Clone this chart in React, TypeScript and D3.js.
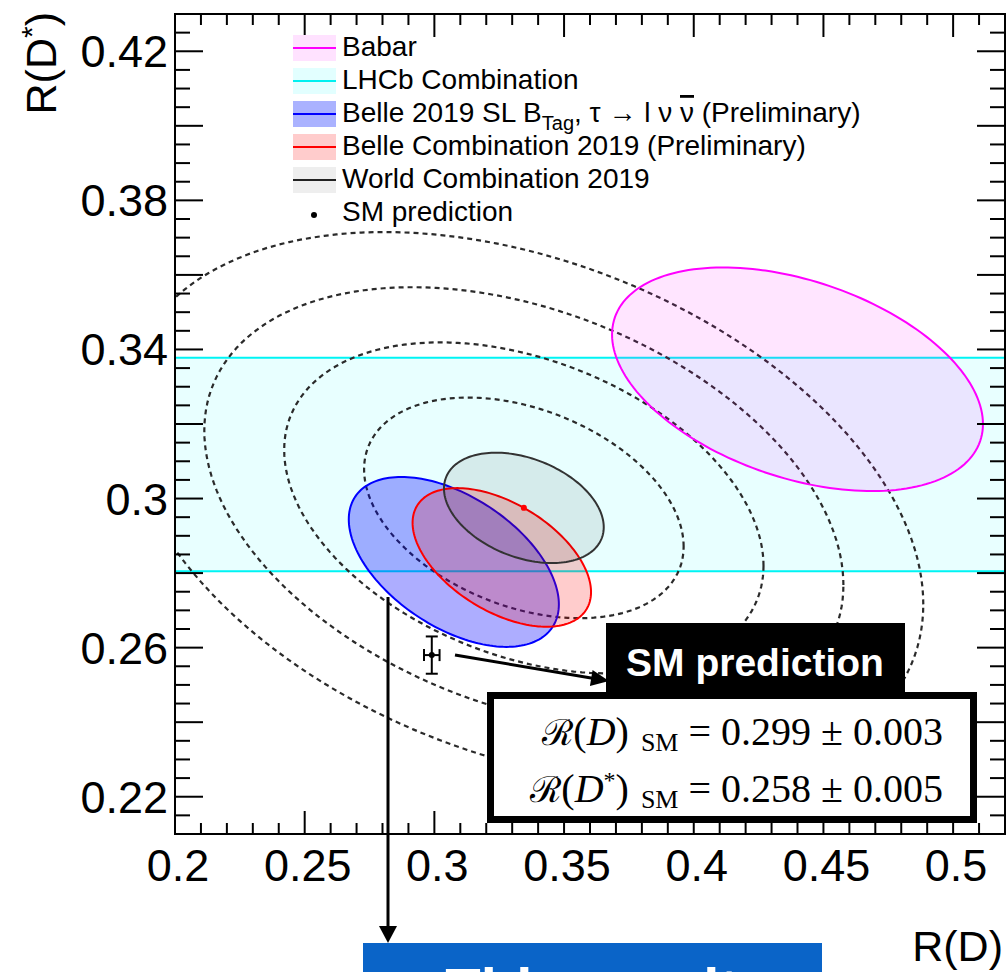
import React from "react";
import * as d3 from "d3";

// ---------------- data ----------------
const ellipseNames = ["Babar", "Belle 2019 SL", "Belle Combination 2019", "World Combination 2019"];
const centerRD = [0.44, 0.3075, 0.326, 0.3345];
const centerRDs = [0.332, 0.283, 0.2842, 0.2975];
const sigmaRD = [0.0715, 0.0405, 0.0344, 0.0308];
const sigmaRDs = [0.03, 0.0228, 0.0186, 0.0148];
const rhoCorr = [-0.4, -0.5, -0.5, -0.35];
const strokeColors = ["#ff00ff", "#0000ff", "#ff0000", "#333333"];
const fillColors = ["rgba(255,0,255,0.10)", "rgba(0,0,255,0.32)", "rgba(255,0,0,0.20)", "rgba(0,0,0,0.08)"];

const worldContourLevels = [2, 3, 4, 5];
const lhcbBand = [0.2805, 0.3378];

const smRD = 0.299;
const smRDErr = 0.003;
const smRDs = 0.258;
const smRDsErr = 0.005;

const xTickValues = [0.2, 0.25, 0.3, 0.35, 0.4, 0.45, 0.5];
const xTickLabels = ["0.2", "0.25", "0.3", "0.35", "0.4", "0.45", "0.5"];
const yTickValues = [0.22, 0.26, 0.3, 0.34, 0.38, 0.42];
const yTickLabels = ["0.22", "0.26", "0.3", "0.34", "0.38", "0.42"];

const legendLabels = [
  "Babar",
  "LHCb Combination",
  "Belle 2019 SL B",
  "Belle Combination 2019 (Preliminary)",
  "World Combination 2019",
  "SM prediction",
];
const legendLine = ["#ff00ff", "#00f0f0", "#0000ff", "#ff0000", "#222222", "none"];
const legendFill = ["#ffe2ff", "#e2ffff", "#aab2ff", "#ffcccc", "#eeeeee", "none"];

// ---------------- layout ----------------
const W = 1008;
const H = 972;
const L = 175, R = 1005, T = 14, B = 834;

const x = d3.scaleLinear().domain([0.2, 0.52]).range([L, R]);
const y = d3.scaleLinear().domain([0.21, 0.43]).range([B, T]);

function ellipsePath(cx: number, cy: number, sx: number, sy: number, r: number, k: number) {
  const pts: [number, number][] = d3.range(0, 360, 2).map((deg) => {
    const t = (deg * Math.PI) / 180;
    return [
      x(cx + k * sx * Math.cos(t)),
      y(cy + k * sy * (r * Math.cos(t) + Math.sqrt(1 - r * r) * Math.sin(t))),
    ];
  });
  return d3.line().curve(d3.curveLinearClosed)(pts) || "";
}

function arrowHead(x1: number, y1: number, x2: number, y2: number, len: number, half: number) {
  const a = Math.atan2(y2 - y1, x2 - x1);
  const bx = x2 - len * Math.cos(a);
  const by = y2 - len * Math.sin(a);
  const px = -Math.sin(a) * half;
  const py = Math.cos(a) * half;
  return `M${x2},${y2}L${bx + px},${by + py}L${bx - px},${by - py}Z`;
}

const sans = "'Liberation Sans', Arial, Helvetica, sans-serif";
const serif = "'Liberation Serif', 'Times New Roman', serif";

export default function App() {
  const xMinor = d3.range(0, 33).map((i) => 0.2 + i * 0.01);
  const yMinor = d3.range(0, 45).map((i) => 0.21 + i * 0.005);
  const isXMajor = (i: number) => i % 5 === 0;
  const isYMajor = (v: number) => Math.round(v * 1000) % 20 === 0;

  const wi = 3; // world index
  const smX = x(smRD);
  const smY = y(smRDs);

  const a1 = { x1: 455, y1: 655, x2: 609, y2: 681 };
  const a2 = { x1: 388, y1: 597, x2: 388, y2: 943 };

  const legendY0 = 48;
  const legendDY = 33;

  return (
    <svg
      width={W}
      height={H}
      style={{ position: "absolute", left: 0, top: 0, background: "#fff" }}
    >
      <defs>
        <clipPath id="plotClip">
          <rect x={L} y={T} width={R - L} height={B - T} />
        </clipPath>
      </defs>
      <rect x={0} y={0} width={W} height={H} fill="#fff" />

      <g clipPath="url(#plotClip)">
        {/* LHCb band */}
        <rect
          x={L}
          y={y(lhcbBand[1])}
          width={R - L}
          height={y(lhcbBand[0]) - y(lhcbBand[1])}
          fill="#e8ffff"
        />
        <line x1={L} x2={R} y1={y(lhcbBand[1])} y2={y(lhcbBand[1])} stroke="#00f4f4" strokeWidth={2} />
        <line x1={L} x2={R} y1={y(lhcbBand[0])} y2={y(lhcbBand[0])} stroke="#00f4f4" strokeWidth={2} />

        {/* world contours */}
        {worldContourLevels.map((k) => (
          <path
            key={k}
            d={ellipsePath(centerRD[wi], centerRDs[wi], sigmaRD[wi], sigmaRDs[wi], rhoCorr[wi], k)}
            fill="none"
            stroke="#2a2a2a"
            strokeWidth={2.2}
            strokeDasharray="5,4"
          />
        ))}

        {/* measurement ellipses */}
        {ellipseNames.map((n, i) => (
          <path
            key={n}
            d={ellipsePath(centerRD[i], centerRDs[i], sigmaRD[i], sigmaRDs[i], rhoCorr[i], 1)}
            fill={fillColors[i]}
            stroke={strokeColors[i]}
            strokeWidth={2}
          />
        ))}
        <circle cx={x(centerRD[wi])} cy={y(centerRDs[wi])} r={3} fill="#ff0000" />
      </g>

      {/* SM prediction point */}
      <g stroke="#000" strokeWidth={2}>
        <line x1={x(smRD - smRDErr)} x2={x(smRD + smRDErr)} y1={smY} y2={smY} />
        <line x1={smX} x2={smX} y1={y(smRDs - smRDsErr)} y2={y(smRDs + smRDsErr)} />
        <line x1={smX - 6} x2={smX + 6} y1={y(smRDs - smRDsErr)} y2={y(smRDs - smRDsErr)} />
        <line x1={smX - 6} x2={smX + 6} y1={y(smRDs + smRDsErr)} y2={y(smRDs + smRDsErr)} />
        <line x1={x(smRD - smRDErr)} x2={x(smRD - smRDErr)} y1={smY - 6} y2={smY + 6} />
        <line x1={x(smRD + smRDErr)} x2={x(smRD + smRDErr)} y1={smY - 6} y2={smY + 6} />
      </g>
      <circle cx={smX} cy={smY} r={3} fill="#000" />

      {/* ticks */}
      <g stroke="#000" strokeWidth={2}>
        {xMinor.map((v, i) => {
          const len = isXMajor(i) ? 23 : 11;
          const xx = x(v);
          return (
            <g key={"xt" + i}>
              <line x1={xx} x2={xx} y1={B} y2={B - len} />
              <line x1={xx} x2={xx} y1={T} y2={T + len} />
            </g>
          );
        })}
        {yMinor.map((v, i) => {
          const len = isYMajor(v) ? 28 : 15;
          const yy = y(v);
          return (
            <g key={"yt" + i}>
              <line x1={L} x2={L + len} y1={yy} y2={yy} />
              <line x1={R} x2={R - len} y1={yy} y2={yy} />
            </g>
          );
        })}
      </g>
      <rect x={L} y={T} width={R - L} height={B - T} fill="none" stroke="#000" strokeWidth={2} />

      {/* tick labels */}
      {xTickValues.map((v, i) => (
        <text key={"xl" + i} x={x(v) + 3} y={881} textAnchor="middle" fontFamily={sans} fontSize={45} fill="#000">
          {xTickLabels[i]}
        </text>
      ))}
      {yTickValues.map((v, i) => (
        <text key={"yl" + i} x={168} y={y(v) + 16} textAnchor="end" fontFamily={sans} fontSize={45} fill="#000">
          {yTickLabels[i]}
        </text>
      ))}

      {/* axis titles */}
      <text x={1003} y={961} textAnchor="end" fontFamily={sans} fontSize={43} fill="#000">
        R(D)
      </text>
      <text
        transform="translate(56,12) rotate(-90)"
        textAnchor="end"
        fontFamily={sans}
        fontSize={43}
        fill="#000"
      >
        R(D<tspan fontSize={30} dy={-14}>*</tspan>
        <tspan dy={14}>)</tspan>
      </text>

      {/* legend */}
      {legendLabels.map((lab, i) => {
        const cy = legendY0 + i * legendDY;
        return (
          <g key={"lg" + i}>
            {legendFill[i] !== "none" && (
              <rect x={293} y={cy - 13} width={43} height={26} fill={legendFill[i]} />
            )}
            {legendLine[i] !== "none" ? (
              <line x1={293} x2={336} y1={cy} y2={cy} stroke={legendLine[i]} strokeWidth={2} />
            ) : (
              <circle cx={314} cy={cy + 2} r={3} fill="#000" />
            )}
            <text x={342} y={cy + 8} fontFamily={sans} fontSize={28} fill="#000">
              {lab}
              {i === 2 && (
                <>
                  <tspan fontSize={20} dy={8}>Tag</tspan>
                  <tspan dy={-8}>, τ → l ν </tspan>
                  <tspan textDecoration="overline">ν</tspan>
                  <tspan> (Preliminary)</tspan>
                </>
              )}
            </text>
          </g>
        );
      })}

      {/* arrows */}
      <line x1={a1.x1} y1={a1.y1} x2={a1.x2 - 12} y2={a1.y2 - 2} stroke="#000" strokeWidth={3} />
      <path d={arrowHead(a1.x1, a1.y1, a1.x2, a1.y2, 18, 8)} fill="#000" />
      <line x1={a2.x1} y1={a2.y1} x2={a2.x2} y2={a2.y2 - 12} stroke="#000" strokeWidth={3} />
      <path d={arrowHead(a2.x1, a2.y1, a2.x2, a2.y2, 17, 9)} fill="#000" />

      {/* SM value box */}
      <rect x={490.5} y={695.5} width={483} height={124} fill="#fff" stroke="#000" strokeWidth={7} />
      <rect x={606} y={623} width={299} height={69} fill="#000" />
      <text x={755} y={676} textAnchor="middle" fontFamily={sans} fontWeight="bold" fontSize={39} fill="#fff">
        SM prediction
      </text>
      <text x={943} y={745} textAnchor="end" fontFamily={serif} fontSize={40} fill="#000">
        <tspan fontFamily="'DejaVu Serif', serif" fontSize={36}>ℛ</tspan>
        <tspan>(</tspan>
        <tspan fontStyle="italic">D</tspan>
        <tspan>)</tspan>
        <tspan fontSize={26} dx={12} dy={6}>SM</tspan>
        <tspan dy={-6}> = 0.299 ± 0.003</tspan>
      </text>
      <text x={943} y={802} textAnchor="end" fontFamily={serif} fontSize={40} fill="#000">
        <tspan fontFamily="'DejaVu Serif', serif" fontSize={36}>ℛ</tspan>
        <tspan>(</tspan>
        <tspan fontStyle="italic">D</tspan>
        <tspan fontSize={24} dy={-14}>*</tspan>
        <tspan dy={14}>)</tspan>
        <tspan fontSize={26} dx={12} dy={6}>SM</tspan>
        <tspan dy={-6}> = 0.258 ± 0.005</tspan>
      </text>

      {/* blue result box (cut off) */}
      <rect x={363} y={943} width={459} height={40} fill="#0a64c8" />
      <text x={592} y={1009} textAnchor="middle" fontFamily={sans} fontWeight="bold" fontSize={58} fill="#fff">
        This result
      </text>
    </svg>
  );
}
